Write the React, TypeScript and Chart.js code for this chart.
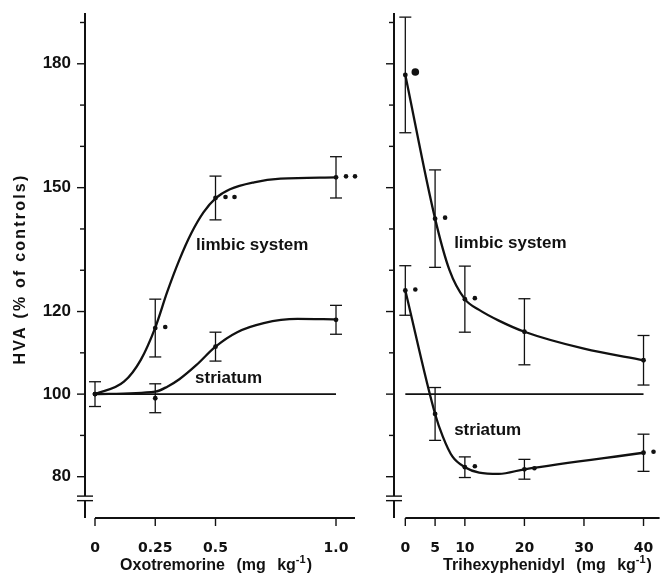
import React, { useEffect, useRef } from 'react';
import { Chart, registerables } from 'chart.js';

Chart.register(...registerables);

const INK = '#111111';

// ---- shared y axis ----
const yTickValues = [80, 90, 100, 110, 120, 130, 140, 150, 160, 170, 180, 190];
const yTickLabelled = [80, 100, 120, 150, 180];
const controlLevel = 100;

// ---- Oxotremorine panel ----
const oxoDoses = [0, 0.25, 0.5, 1.0];
const oxoXTicks = [0, 0.25, 0.5, 1.0];
const oxoXTickLabels = ['0', '0.25', '0.5', '1.0'];
const oxoControlX = [0, 1.0];
const oxoLimbicMean = [100, 116, 147.5, 152.5];
const oxoLimbicSem = [3, 7, 5.3, 5];
const oxoLimbicSig = ['', '*', '**', '**'];
const oxoStriatumMean = [100, 99, 111.5, 118];
const oxoStriatumSem = [0, 3.5, 3.5, 3.5];
const oxoStriatumSig = ['', '', '', ''];
const oxoLimbicCurveX = [0, 0.12, 0.19, 0.25, 0.3, 0.35, 0.4, 0.45, 0.5, 0.56, 0.66, 0.77, 1.0];
const oxoLimbicCurveY = [100, 103, 108.3, 116.1, 124.8, 132.5, 139, 144, 147.4, 149.6, 151.3, 152.2, 152.5];
const oxoStriatumCurveX = [0, 0.25, 0.3, 0.35, 0.42, 0.5, 0.59, 0.7, 0.84, 1.0];
const oxoStriatumCurveY = [100, 100.6, 101.8, 103.6, 107, 111.5, 115, 117.2, 118.2, 118.1];

// ---- Trihexyphenidyl panel ----
const thxDoses = [0, 5, 10, 20, 40];
const thxXTicks = [0, 5, 10, 20, 30, 40];
const thxXTickLabels = ['0', '5', '10', '20', '30', '40'];
const thxControlX = [0, 40];
const thxLimbicMean = [177.3, 142.5, 123, 115.1, 108.2];
const thxLimbicSem = [14, 11.8, 8, 8, 6];
const thxLimbicSig = ['L', '*', '*', '', ''];
const thxStriatumMean = [125.1, 95.2, 82.3, 81.8, 85.8];
const thxStriatumSem = [6, 6.4, 2.5, 2.4, 4.5];
const thxStriatumSig = ['*', '', '*', '*', '*'];
const thxLimbicCurveX = [0, 5, 7.4, 10, 12.4, 15.7, 20, 30, 40];
const thxLimbicCurveY = [177.3, 142.5, 130.1, 123, 120.4, 117.8, 115.1, 111, 108.2];
const thxStriatumCurveX = [0, 5, 6.3, 7.9, 10, 12.4, 15.7, 20, 40];
const thxStriatumCurveY = [125.1, 95.2, 89.7, 84.9, 82.3, 81, 80.7, 81.8, 85.8];

const SERIES_LABELS = ['limbic system', 'striatum'];

type PanelCfg = {
  doses: number[];
  xTicks: number[];
  xTickLabels: string[];
  controlX: number[];
  limbicMean: number[];
  limbicSem: number[];
  limbicSig: string[];
  striatumMean: number[];
  striatumSem: number[];
  striatumSig: string[];
  limbicCurveX: number[];
  limbicCurveY: number[];
  striatumCurveX: number[];
  striatumCurveY: number[];
  xMin: number;
  xMax: number;
  axisWidth: number;
  padRight: number;
  showYLabels: boolean;
  yTitle: string | null;
  xTitle: string;
  xTitleCenter: number;
  limbicLabelAt: [number, number];
  striatumLabelAt: [number, number];
};

const panels: { left: number; width: number; cfg: PanelCfg }[] = [
  {
    left: 0,
    width: 362,
    cfg: {
      doses: oxoDoses,
      xTicks: oxoXTicks,
      xTickLabels: oxoXTickLabels,
      controlX: oxoControlX,
      limbicMean: oxoLimbicMean,
      limbicSem: oxoLimbicSem,
      limbicSig: oxoLimbicSig,
      striatumMean: oxoStriatumMean,
      striatumSem: oxoStriatumSem,
      striatumSig: oxoStriatumSig,
      limbicCurveX: oxoLimbicCurveX,
      limbicCurveY: oxoLimbicCurveY,
      striatumCurveX: oxoStriatumCurveX,
      striatumCurveY: oxoStriatumCurveY,
      xMin: -0.0415,
      xMax: 1.0788,
      axisWidth: 85,
      padRight: 7,
      showYLabels: true,
      yTitle: 'HVA (% of controls)',
      xTitle: 'Oxotremorine',
      xTitleCenter: 216,
      limbicLabelAt: [0.419, 134.9],
      striatumLabelAt: [0.415, 102.6],
    },
  },
  {
    left: 362,
    width: 300,
    cfg: {
      doses: thxDoses,
      xTicks: thxXTicks,
      xTickLabels: thxXTickLabels,
      controlX: thxControlX,
      limbicMean: thxLimbicMean,
      limbicSem: thxLimbicSem,
      limbicSig: thxLimbicSig,
      striatumMean: thxStriatumMean,
      striatumSem: thxStriatumSem,
      striatumSig: thxStriatumSig,
      limbicCurveX: thxLimbicCurveX,
      limbicCurveY: thxLimbicCurveY,
      striatumCurveX: thxStriatumCurveX,
      striatumCurveY: thxStriatumCurveY,
      xMin: -1.9,
      xMax: 42.7,
      axisWidth: 32,
      padRight: 0,
      showYLabels: false,
      yTitle: null,
      xTitle: 'Trihexyphenidyl',
      xTitleCenter: 185.5,
      limbicLabelAt: [8.2, 135.3],
      striatumLabelAt: [8.2, 90.1],
    },
  },
];

function makeDecor(p: PanelCfg) {
  return {
    id: 'decor',
    afterDatasetsDraw(chart: any) {
      const ctx = chart.ctx as CanvasRenderingContext2D;
      const a = chart.chartArea;
      const xs = chart.scales.x;
      const ys = chart.scales.y;
      const line = (x1: number, y1: number, x2: number, y2: number) => {
        ctx.beginPath();
        ctx.moveTo(x1, y1);
        ctx.lineTo(x2, y2);
        ctx.stroke();
      };
      ctx.save();
      ctx.strokeStyle = INK;
      ctx.fillStyle = INK;
      ctx.lineCap = 'butt';

      // y axis with break
      const ax = a.left;
      const b1 = ys.getPixelForValue(75.3);
      const b2 = ys.getPixelForValue(74.2);
      ctx.lineWidth = 2;
      line(ax, a.top, ax, b1);
      line(ax, b2, ax, a.bottom);
      ctx.lineWidth = 1.4;
      line(ax - 8, b1, ax + 8, b1);
      line(ax - 8, b2, ax + 8, b2);
      // y ticks
      ctx.lineWidth = 1.4;
      yTickValues.forEach((v) => {
        const y = ys.getPixelForValue(v);
        const len = yTickLabelled.includes(v) ? 8 : 5;
        line(ax - len, y, ax, y);
      });

      // x axis
      const x0 = xs.getPixelForValue(p.xTicks[0]);
      ctx.lineWidth = 2;
      line(x0, a.bottom, a.right, a.bottom);
      ctx.lineWidth = 1.4;
      p.xTicks.forEach((v) => {
        const x = xs.getPixelForValue(v);
        line(x, a.bottom, x, a.bottom + 8);
      });

      // error bars
      ctx.lineWidth = 1.3;
      const bars = (means: number[], sems: number[]) => {
        means.forEach((m, i) => {
          const e = sems[i];
          if (!e) return;
          const x = xs.getPixelForValue(p.doses[i]);
          const yt = ys.getPixelForValue(m + e);
          const yb = ys.getPixelForValue(m - e);
          line(x, yt, x, yb);
          line(x - 6, yt, x + 6, yt);
          line(x - 6, yb, x + 6, yb);
        });
      };
      bars(p.limbicMean, p.limbicSem);
      bars(p.striatumMean, p.striatumSem);

      // significance marks
      const dot = (x: number, y: number, r: number) => {
        ctx.beginPath();
        ctx.arc(x, y, r, 0, Math.PI * 2);
        ctx.fill();
      };
      const sig = (means: number[], marks: string[]) => {
        means.forEach((m, i) => {
          const s = marks[i];
          if (!s) return;
          const x = xs.getPixelForValue(p.doses[i]);
          const y = ys.getPixelForValue(m);
          if (s === 'L') {
            dot(x + 10, y - 3, 3.8);
          } else {
            dot(x + 10, y - 1, 2.3);
            if (s === '**') dot(x + 19, y - 1, 2.3);
          }
        });
      };
      sig(p.limbicMean, p.limbicSig);
      sig(p.striatumMean, p.striatumSig);

      // series labels
      ctx.font = '700 17px "Liberation Sans", Arial, sans-serif';
      ctx.textAlign = 'left';
      ctx.textBaseline = 'alphabetic';
      ctx.fillText(SERIES_LABELS[0], xs.getPixelForValue(p.limbicLabelAt[0]), ys.getPixelForValue(p.limbicLabelAt[1]));
      ctx.fillText(SERIES_LABELS[1], xs.getPixelForValue(p.striatumLabelAt[0]), ys.getPixelForValue(p.striatumLabelAt[1]));

      // x title with superscript unit
      const mainFont = '700 16px "Liberation Sans", Arial, sans-serif';
      const supFont = '700 11px "Liberation Sans", Arial, sans-serif';
      (ctx as any).wordSpacing = '7px';
      ctx.font = mainFont;
      const part1 = p.xTitle + ' (mg kg';
      const w1 = ctx.measureText(part1).width;
      const w3 = ctx.measureText(')').width;
      ctx.font = supFont;
      const w2 = ctx.measureText('-1').width + 1;
      const total = w1 + w2 + w3;
      const baseY = 570;
      let sx = p.xTitleCenter - total / 2;
      ctx.font = mainFont;
      ctx.fillText(part1, sx, baseY);
      sx += w1;
      ctx.font = supFont;
      ctx.fillText('-1', sx, baseY - 7);
      sx += w2;
      ctx.font = mainFont;
      ctx.fillText(')', sx, baseY);
      (ctx as any).wordSpacing = '0px';

      // y title
      if (p.yTitle) {
        ctx.save();
        ctx.translate(21, 269);
        ctx.rotate(-Math.PI / 2);
        ctx.font = '700 16px "Liberation Sans", Arial, sans-serif';
        (ctx as any).letterSpacing = '2.2px';
        ctx.textAlign = 'center';
        ctx.textBaseline = 'middle';
        ctx.fillText(p.yTitle, 0, 0);
        ctx.restore();
      }
      ctx.restore();
    },
  };
}

function buildConfig(p: PanelCfg): any {
  const pts = (xs: number[], ys: number[]) => xs.map((x, i) => ({ x, y: ys[i] }));
  const curve = (xs: number[], ys: number[]) => ({
    data: pts(xs, ys),
    showLine: true,
    cubicInterpolationMode: 'monotone',
    borderColor: INK,
    borderWidth: 2.3,
    pointRadius: 0,
    pointHoverRadius: 0,
  });
  const means = (ys: number[]) => ({
    data: pts(p.doses, ys),
    showLine: false,
    pointRadius: 2.4,
    pointBackgroundColor: INK,
    pointBorderWidth: 0,
    pointHoverRadius: 2.4,
  });
  return {
    type: 'scatter',
    data: {
      datasets: [
        {
          data: p.controlX.map((x) => ({ x, y: controlLevel })),
          showLine: true,
          borderColor: INK,
          borderWidth: 1.8,
          pointRadius: 0,
          pointHoverRadius: 0,
        },
        curve(p.limbicCurveX, p.limbicCurveY),
        curve(p.striatumCurveX, p.striatumCurveY),
        means(p.limbicMean),
        means(p.striatumMean),
      ],
    },
    options: {
      responsive: false,
      animation: false,
      devicePixelRatio: 1,
      layout: { padding: { left: 0, right: p.padRight, top: 13, bottom: 0 } },
      events: [],
      plugins: { legend: { display: false }, tooltip: { enabled: false }, title: { display: false } },
      scales: {
        x: {
          type: 'linear',
          min: p.xMin,
          max: p.xMax,
          afterBuildTicks: (s: any) => {
            s.ticks = p.xTicks.map((v) => ({ value: v }));
          },
          afterFit: (s: any) => {
            s.height = 55;
            s.paddingLeft = 0;
            s.paddingRight = 0;
          },
          grid: { display: false },
          border: { display: false },
          ticks: {
            autoSkip: false,
            maxRotation: 0,
            padding: 14,
            color: INK,
            font: { family: '"DejaVu Sans", sans-serif', weight: 'bold', size: 14 },
            callback: (_v: any, i: number) => p.xTickLabels[i],
          },
        },
        y: {
          type: 'linear',
          min: 70,
          max: 192.3,
          afterBuildTicks: (s: any) => {
            s.ticks = yTickValues.map((v) => ({ value: v }));
          },
          afterFit: (s: any) => {
            s.width = p.axisWidth;
            s.paddingTop = 0;
            s.paddingBottom = 0;
          },
          grid: { display: false },
          border: { display: false },
          ticks: {
            display: p.showYLabels,
            autoSkip: false,
            padding: 6,
            color: INK,
            font: { family: '"Liberation Sans", Arial, sans-serif', weight: 'bold', size: 17 },
            callback: (v: any) => (yTickLabelled.includes(v) ? String(v) : ''),
          },
        },
      },
    },
    plugins: [makeDecor(p)],
  };
}

function Panel({ left, width, cfg }: { left: number; width: number; cfg: PanelCfg }) {
  const ref = useRef<HTMLCanvasElement | null>(null);
  useEffect(() => {
    if (!ref.current) return;
    const chart = new Chart(ref.current, buildConfig(cfg));
    return () => chart.destroy();
  }, []);
  return (
    <canvas
      ref={ref}
      width={width}
      height={573}
      style={{ position: 'absolute', left, top: 0, width, height: 573, display: 'block' }}
    />
  );
}

export default function App() {
  return (
    <div
      style={{
        position: 'absolute',
        left: 0,
        top: 0,
        width: 662,
        height: 573,
        background: '#ffffff',
        overflow: 'hidden',
      }}
    >
      {panels.map((pn, i) => (
        <Panel key={i} left={pn.left} width={pn.width} cfg={pn.cfg} />
      ))}
    </div>
  );
}
